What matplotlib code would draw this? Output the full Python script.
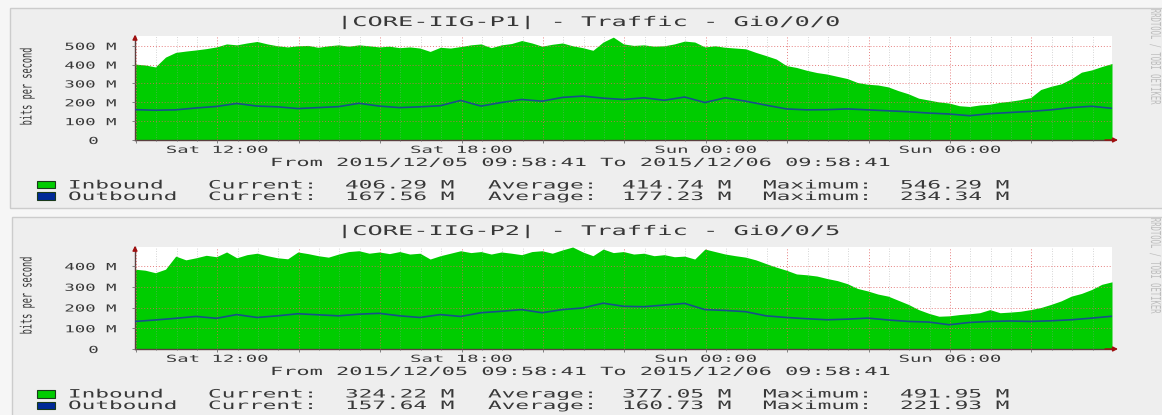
import numpy as np
import pandas as pd
import matplotlib.pyplot as plt
import matplotlib.dates as mdates
from matplotlib.patches import Rectangle
from matplotlib.patheffects import AbstractPathEffect
from matplotlib.transforms import Affine2D

# ---- data (Mbit/s) ----
start, end = '2015-12-05 09:58:41', '2015-12-06 09:58:41'
times_in = pd.date_range(start, end, freq='15min')
times_out = pd.date_range(start, end, freq='30min')

titles = ['|CORE-IIG-P1| - Traffic - Gi0/0/0', '|CORE-IIG-P2| - Traffic - Gi0/0/5']
period = 'From 2015/12/05 09:58:41 To 2015/12/06 09:58:41'
series_names = ['Inbound', 'Outbound']

p1_in = [403, 398, 388, 440, 465, 472, 478, 485, 494, 510, 505, 515,
         523, 510, 500, 494, 500, 502, 492, 500, 505, 498, 505, 500,
         494, 498, 490, 494, 488, 470, 492, 488, 496, 505, 510, 490,
         505, 512, 528, 515, 498, 508, 515, 500, 490, 476, 520, 546,
         510, 502, 505, 498, 500, 510, 525, 520, 494, 500, 492, 488,
         484, 465, 448, 430, 395, 385, 370, 358, 350, 338, 326, 305,
         296, 292, 282, 262, 245, 222, 212, 202, 196, 182, 178, 186,
         190, 200, 206, 214, 225, 268, 285, 298, 325, 360, 372, 390, 406]
p1_out = [161, 158, 160, 170, 178, 194, 180, 176, 167, 172,
          177, 195, 180, 172, 176, 182, 210, 180, 199, 215,
          206, 226, 233, 222, 215, 224, 211, 228, 199, 224,
          206, 185, 165, 160, 161, 165, 160, 155, 150, 143,
          138, 129, 140, 146, 152, 160, 172, 179, 168]
p2_in = [385, 380, 368, 385, 448, 430, 440, 452, 445, 468, 440, 455,
         462, 450, 440, 435, 468, 460, 450, 443, 458, 470, 474, 462,
         468, 460, 470, 458, 462, 434, 450, 462, 474, 465, 470, 458,
         468, 462, 455, 470, 474, 462, 478, 492, 468, 450, 482, 465,
         470, 458, 462, 450, 455, 445, 448, 434, 482, 470, 458, 450,
         443, 430, 412, 395, 380, 362, 358, 352, 340, 330, 315, 292,
         280, 265, 255, 235, 215, 190, 172, 158, 160, 166, 170, 175,
         190, 175, 178, 182, 190, 200, 215, 232, 255, 268, 287, 312, 324]
p2_out = [133, 140, 148, 157, 148, 166, 152, 160, 170, 165,
          160, 168, 172, 160, 152, 166, 157, 175, 182, 190,
          175, 190, 198, 221, 206, 204, 212, 220, 190, 186,
          180, 160, 152, 146, 141, 144, 149, 140, 133, 130,
          117, 128, 133, 135, 133, 136, 141, 149, 158]

cur_vals = [['406.29 M', '167.56 M'], ['324.22 M', '157.64 M']]
avg_vals = [['414.74 M', '177.23 M'], ['377.05 M', '160.73 M']]
max_vals = [['546.29 M', '234.34 M'], ['491.95 M', '221.93 M']]

IN_COLOR = '#00CC00'
OUT_COLOR = '#17508a'
TXT = '#383838'

plt.rcParams['font.family'] = 'DejaVu Sans Mono'


class Wide(AbstractPathEffect):
    # the original png was stretched sideways, so stretch the glyphs too
    def __init__(self, sx=1.95, sy=1.0, anchor='left', dx=0):
        super().__init__()
        self.sx, self.sy, self.anchor, self.dx = sx, sy, anchor, dx

    def draw_path(self, renderer, gc, tpath, affine, rgbFace=None):
        ext = tpath.get_extents()
        x0 = {'left': 0, 'center': (ext.x0 + ext.x1) / 2, 'right': ext.x1}[self.anchor]
        stretch = Affine2D().translate(-x0, 0).scale(self.sx, self.sy).translate(x0, 0)
        shift = Affine2D().translate(self.dx, 0)
        renderer.draw_path(gc, tpath, stretch + affine + shift, rgbFace)


W, H = 1162, 415
fig = plt.figure(figsize=(W / 100, H / 100), dpi=100, facecolor='#f6f6f6')


def fx(x):
    return x / W


def fy(y):
    return 1 - y / H


def wtext(x, y, s, size, sx=1.95, **kw):
    return fig.text(fx(x), fy(y), s, fontsize=size, color=TXT, va='baseline',
                    path_effects=[Wide(sx)], **kw)


x_in = mdates.date2num(times_in.to_pydatetime())
x_out = mdates.date2num(times_out.to_pydatetime())
major = pd.date_range(pd.Timestamp(start).ceil('2h'), end, freq='2h')
minor = pd.date_range(pd.Timestamp(start).ceil('30min'), end, freq='30min')
xlabels = [t.strftime('%a %H:%M') if t.hour % 6 == 0 else '' for t in major]

panels = [
    dict(dy=0, box=(10, 8, 208), top=36, bottom=140, ymax=552, inb=p1_in, outb=p1_out),
    dict(dy=209, box=(12, 217, 420), top=247, bottom=349, ymax=492, inb=p2_in, outb=p2_out),
]

for i, p in enumerate(panels):
    dy = p['dy']
    bx0, by0, by1 = p['box']
    fig.patches.append(Rectangle((fx(bx0), fy(by1)), fx(W + 5 - bx0), (by1 - by0) / H,
                                 transform=fig.transFigure, facecolor='#eeeeee',
                                 edgecolor='#cccccc', lw=1, zorder=-5))

    ax = fig.add_axes((fx(135), fy(p['bottom']), fx(1112) - fx(135), (p['bottom'] - p['top']) / H))
    ax.set_facecolor('white')
    ax.fill_between(x_in, 0, p['inb'], color=IN_COLOR, lw=0, zorder=1)
    ax.plot(x_out, p['outb'], color=OUT_COLOR, lw=1.2, zorder=3)
    ax.set_xlim(x_in[0], x_in[-1])
    ax.set_ylim(0, p['ymax'])

    ax.set_xticks(mdates.date2num(major.to_pydatetime()), xlabels)
    ax.set_xticks(mdates.date2num(minor.to_pydatetime()), minor=True)
    yt = np.arange(0, p['ymax'], 100)
    ax.set_yticks(yt, ['0' if v == 0 else f'{v:.0f} M' for v in yt])

    ax.set_axisbelow(False)
    ax.grid(True, which='major', color='#e06060', ls=(0, (1, 2)), lw=0.7, alpha=0.8)
    ax.xaxis.grid(True, which='minor', color='#9a9a9a', ls=(0, (1, 2)), lw=0.6, alpha=0.55)

    ax.tick_params(axis='both', which='both', length=2, width=0.6, color='#707070',
                   labelsize=7, labelcolor=TXT)
    ax.tick_params(axis='x', which='minor', length=1)
    ax.tick_params(axis='y', pad=11.5)
    ax.tick_params(axis='x', pad=1.5)
    for side in ['top', 'right']:
        ax.spines[side].set_visible(False)
    for side in ['left', 'bottom']:
        ax.spines[side].set_color('#5a4040')
        ax.spines[side].set_linewidth(1)
    ax.annotate('', xy=(0, 1.04), xytext=(0, 0.95), xycoords='axes fraction',
                arrowprops=dict(arrowstyle='-|>', color='#a01010', lw=1, mutation_scale=7),
                annotation_clip=False)
    ax.annotate('', xy=(1.009, 0), xytext=(0.99, 0), xycoords='axes fraction',
                arrowprops=dict(arrowstyle='-|>', color='#a01010', lw=1, mutation_scale=7),
                annotation_clip=False)
    for lbl in ax.get_xticklabels():
        lbl.set_path_effects([Wide(1.95, anchor='center')])
    for lbl in ax.get_yticklabels():
        # rrdtool pads the unitless "0" label, so it sits further left
        shift = -18 if lbl.get_text() == '0' else 0
        lbl.set_path_effects([Wide(1.78, anchor='right', dx=shift)])

    # header, footer and legend
    wtext(337, 26 + dy, titles[i], 9.6, 1.9)
    wtext(270, 166 + dy, period, 8.1, 1.95)
    fig.text(fx(29), fy(86 + dy), 'bits per second', rotation=90, ha='center', va='center',
             fontsize=6.2, color=TXT, path_effects=[Wide(1.0, 1.8)])
    fig.text(fx(1153), fy(57 + dy), 'RRDTOOL / TOBI OETIKER', rotation=270, ha='center',
             va='center', fontsize=5.2, color='#bdbdbd', path_effects=[Wide(1.0, 1.9)])

    for row, (name, col) in enumerate(zip(series_names, [IN_COLOR, '#002A97'])):
        yb = 188.5 + 11.5 * row + dy
        fig.patches.append(Rectangle((fx(37), fy(yb)), fx(18), 7.5 / H, transform=fig.transFigure,
                                     facecolor=col, edgecolor='#1a3a1a', lw=0.8, zorder=2))
        wtext(68, yb, name, 8.3, 1.97)
        wtext(208, yb, 'Current:', 8.3, 1.97)
        wtext(345, yb, cur_vals[i][row], 8.3, 1.97)
        wtext(488, yb, 'Average:', 8.3, 1.97)
        wtext(622, yb, avg_vals[i][row], 8.3, 1.97)
        wtext(763, yb, 'Maximum:', 8.3, 1.97)
        wtext(900, yb, max_vals[i][row], 8.3, 1.97)

fig.savefig('out.png', dpi=100, facecolor=fig.get_facecolor())
